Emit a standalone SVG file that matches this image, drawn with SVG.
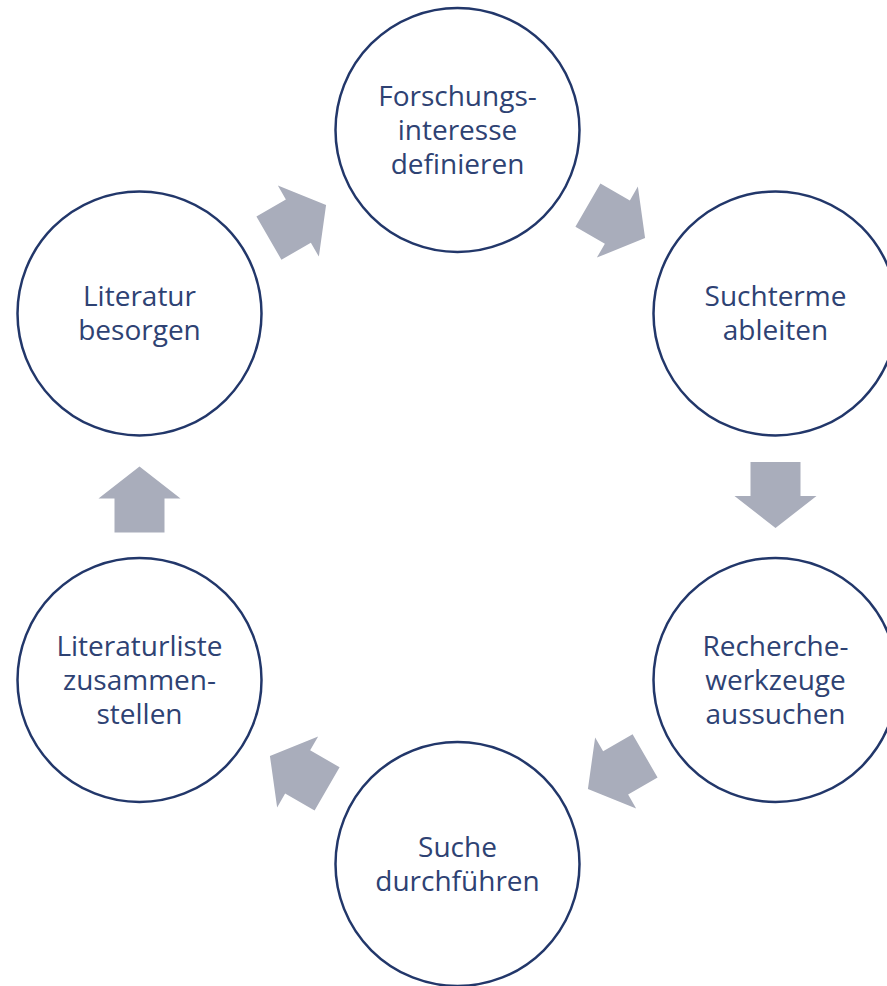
<svg xmlns="http://www.w3.org/2000/svg" width="887" height="986" viewBox="0 0 887 986">
<defs>
<style>
.n{fill:#ffffff;stroke:#22376a;stroke-width:2.5}
.t{font-family:"Open Sans","Noto Sans",sans-serif;font-size:28px;fill:#2e4273;text-anchor:middle}
.a{fill:#a9adbb}
</style>
<polygon id="arr" class="a" points="-33,-25 1,-25 1,-41 33,0 1,41 1,25 -33,25"/>
</defs>
<rect width="887" height="986" fill="#ffffff"/>
<g id="connectors">
<use href="#arr" transform="translate(616.5,221.6) rotate(30)"/>
<use href="#arr" transform="translate(775.5,495) rotate(90)"/>
<use href="#arr" transform="translate(616.5,772.4) rotate(150)"/>
<use href="#arr" transform="translate(298.5,772.4) rotate(210)"/>
<use href="#arr" transform="translate(139.5,499.5) rotate(270)"/>
<use href="#arr" transform="translate(297.5,221.6) rotate(330)"/>
</g>
<g id="n1">
<circle class="n" cx="457.5" cy="130" r="122"/>
<text class="t" x="457.5" y="106">Forschungs-</text>
<text class="t" x="457.5" y="140">interesse</text>
<text class="t" x="457.5" y="174">definieren</text>
</g>
<g id="n2">
<circle class="n" cx="775.5" cy="313.5" r="122"/>
<text class="t" x="775.5" y="306">Suchterme</text>
<text class="t" x="775.5" y="340">ableiten</text>
</g>
<g id="n3">
<circle class="n" cx="775.5" cy="680" r="122"/>
<text class="t" x="775.5" y="656">Recherche-</text>
<text class="t" x="775.5" y="690">werkzeuge</text>
<text class="t" x="775.5" y="724">aussuchen</text>
</g>
<g id="n4">
<circle class="n" cx="457.5" cy="864" r="122"/>
<text class="t" x="457.5" y="857">Suche</text>
<text class="t" x="457.5" y="891">durchführen</text>
</g>
<g id="n5">
<circle class="n" cx="139.5" cy="680" r="122"/>
<text class="t" x="139.5" y="656">Literaturliste</text>
<text class="t" x="139.5" y="690">zusammen-</text>
<text class="t" x="139.5" y="724">stellen</text>
</g>
<g id="n6">
<circle class="n" cx="139.5" cy="313.5" r="122"/>
<text class="t" x="139.5" y="306">Literatur</text>
<text class="t" x="139.5" y="340">besorgen</text>
</g>
</svg>
